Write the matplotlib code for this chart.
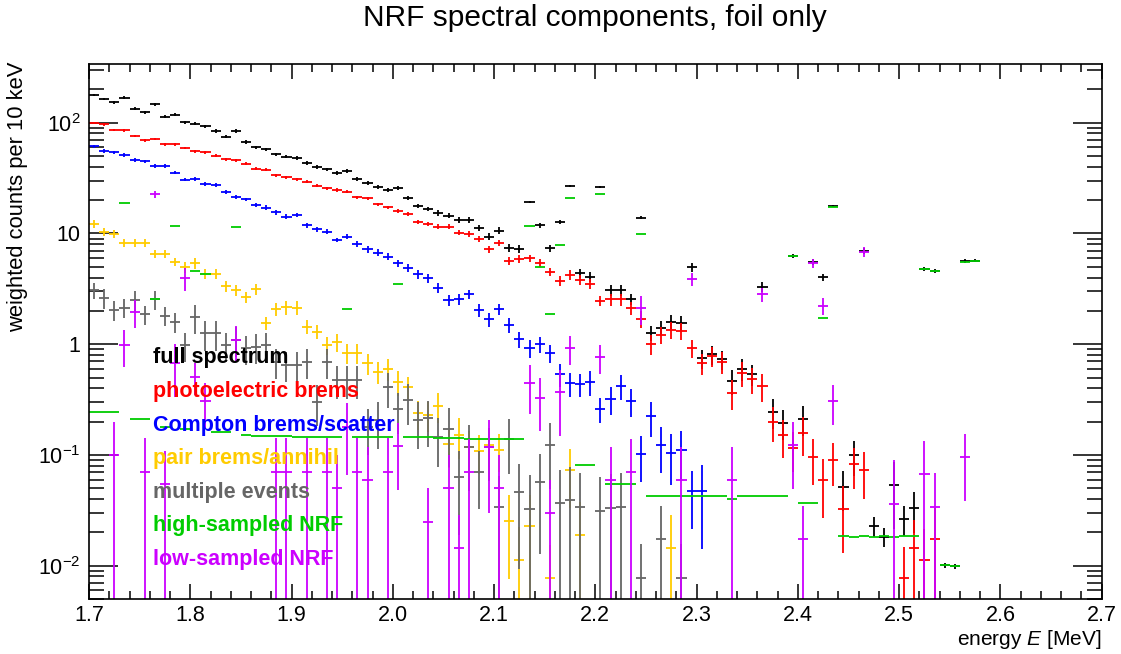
import numpy as np
import matplotlib
matplotlib.use('Agg')
import matplotlib.pyplot as plt
from matplotlib.ticker import FixedLocator, FixedFormatter, LogLocator, MultipleLocator, NullFormatter, FormatStrFormatter

plt.rcParams['font.family'] = ['Liberation Sans', 'DejaVu Sans']
plt.rcParams['mathtext.fontset'] = 'custom'
plt.rcParams['mathtext.rm'] = 'Liberation Sans'
plt.rcParams['mathtext.it'] = 'Liberation Sans:italic'

N = None
e_min = 1.7      # MeV, first bin edge
bin_w = 0.01     # 10 keV bins

# ---- values per 10 keV bin (None = empty bin) ----
full = [178, 164, 153, 168, 134, 124, 147, 113, 118, 101,
        98, 93, 84, 75, 84, 67, 60, 57.5, 51.9, 49.4,
        48.3, 43.5, 39.8, 37.9, 35.2, 36.9, 30.8, 28.7, 26.3, 24.5,
        25.9, 20.9, 17.7, 16.6, 15.3, 14.5, 13.2, 13.2, 11.3, 9.35,
        10.6, 7.44, 7.24, 19.4, 11.9, 7.35, 12.6, 27.0, 4.37, 4.05,
        26.1, 3.08, 3.08, 2.56, 13.9, 1.27, 1.41, 1.60, 1.55, 4.94,
        0.745, 0.81, 0.73, 0.468, 0.60, 0.535, 3.3, 0.246, 0.195, 6.3,
        0.211, 5.5, 4.02, 17.6, 0.0516, 0.0998, 6.95, 0.0229, 0.0183, 0.0536,
        0.0264, 0.033, 4.8, 4.62, 0.0101, 0.0099, 5.6, 5.7, N, N]
full_err = [.03] * 10 + [.035] * 10 + [.04] * 10 + \
    [.045, .045, .045, .045, .055, .055, .06, .06, .065, .07,
     .07, .08, .08, .02, .05, .08, .04, .02, .1, .1,
     .02, .12, .12, .12, .03, .16, .15, .15, .15, .1,
     .2, .2, .2, .25, .22, .22, .1, .3, .3, .04,
     .3, .06, .07, .02, .4, .35, .06, .2, .2, .6,
     .3, .4, .04, .04, .05, .05, .04, .04, 0, 0]

photo = [100, 96.7, 86.4, 85.3, 75.8, 69.3, 71.7, 63.8, 63.8, 59.5,
         55.2, 54.3, 50.3, 46.8, 45.7, 42.7, 38.5, 37.7, 33.5, 32.1,
         30.8, 29.3, 27.0, 25.6, 24.7, 23.8, 21.2, 20.8, 18.4, 17.2,
         16.0, 15.0, 12.7, 12.1, 11.5, 11.5, 10.2, 9.95, 8.91, 7.19,
         8.2, 5.68, 5.88, 5.96, 5.44, 4.52, 3.74, 4.22, 3.80, 3.50,
         2.47, 2.54, 2.54, 2.11, 1.69, 1.0, 1.22, 1.35, 1.32, 0.918,
         0.671, 0.782, 0.695, 0.365, 0.553, 0.482, 0.422, 0.2, 0.151, 0.116,
         0.159, 0.0964, 0.0594, 0.09, 0.0325, 0.0822, 0.0731, N, N, N,
         0.0078, 0.0144, 0.0112, 0.0173, N, N, N, N, N, N]
photo_err = [.025] * 10 + [.03] * 10 + [.035] * 10 + \
    [.04, .04, .04, .04, .05, .05, .05, .06, .06, .07,
     .06, .08, .08, .08, .08, .09, .1, .1, .1, .1,
     .1, .12, .12, .13, .17, .2, .18, .17, .17, .19,
     .22, .21, .22, .3, .25, .26, .28, .35, .38, .4,
     .38, .45, .55, .42, .6, .4, .45, 0, 0, 0,
     .9, .8, .9, .9, 0, 0, 0, 0, 0, 0]

compton = [61.3, 55.8, 54.0, 51.1, 46.0, 44.8, 40.6, 40.6, 35.4, 30.6,
           31.0, 28.1, 27.2, 23.7, 21.3, 20.3, 18.1, 17.1, 15.6, 14.2,
           14.7, 11.9, 10.9, 10.4, 8.73, 9.35, 8.04, 7.19, 6.70, 6.17,
           5.37, 4.87, 4.27, 3.93, 3.24, 2.51, 2.54, 2.82, 2.04, 1.68,
           2.08, 1.49, 1.11, 0.918, 1.0, 0.828, 0.535, 0.443, 0.434, 0.458,
           0.260, 0.318, 0.422, 0.307, 0.102, 0.225, 0.124, 0.104, 0.111, 0.047,
           0.0476] + [N] * 39
compton_err = [.035] * 10 + [.04] * 7 + [.05] * 9 + \
    [.06, .065, .07, .07, .08, .08, .09, .09,
     .1, .11, .11, .1, .13, .14, .12, .15,
     .16, .18, .17, .19, .23, .25, .23, .25,
     .25, .28, .26, .29, .44, .35, .45, .49, .48, .54, .7] + [0] * 39

pair = [12.2, 10.4, 9.95, 8.26, 8.26, 8.26, 6.57, 6.57, 5.52, 4.94,
        5.40, 4.34, 4.34, 3.33, 3.09, 2.65, 3.13, 1.55, 2.08, 2.15,
        2.14, 1.44, 1.30, 0.98, 1.04, 0.83, 0.83, 0.67, 0.565, 0.60,
        0.458, 0.408, 0.238, 0.23, 0.279, 0.126, 0.153, 0.117, 0.109, 0.123,
        0.112, 0.0255, 0.0112, 0.0230, N, 0.00774, N, 0.0731, 0.0188, N,
        N, N, N, N, N, N, N, 0.0144] + [N] * 42
pair_err = [.08] * 9 + [.11] * 8 + [.14] * 6 + \
    [.18, .18, .2, .2, .22, .23, .22, .25, .25, .3,
     .3, .3, .4, .4, .4, .38, .4, .37, .7, 1.0,
     .9, 0, 1.0, 0, .55, 1.0, 0, 0, 0, 0,
     0, 0, 0, 0, 1.0] + [0] * 42

multi = [3.08, 2.6, 2.04, 2.14, 2.51, 1.86, 2.54, 1.81, 1.58, 0.98,
         1.75, 1.25, 1.25, 0.98, 1.1, 0.918, 0.95, 0.98, 0.695, 0.649,
         0.649, 0.695, 0.303, 0.695, 0.475, 0.475, 0.475, 0.18, 0.207, 0.408,
         0.26, 0.313, 0.207, 0.214, 0.146, 0.172, 0.0633, 0.117, 0.0706, 0.117,
         0.0341, 0.14, 0.0463, 0.0327, 0.0574, 0.122, 0.0368, 0.0392, 0.0341, N,
         0.0314, 0.0334, 0.0341, N, 0.0078, N, 0.0173, N, 0.0078] + [N] * 41
multi_err = [.17] + [.2] * 8 + [.3] * 13 + \
    [.4, .3, .33, .33, .33, .45, .45, .35, .4, .4, .45, .45,
     .47, .55, .7, .6, .54, .5, .9, .52, .8, 1.0, .78, .6, 1.0, 1.0, 1.0, 0,
     1.0, 1.0, 1.0, 0, 1.0, 0, 1.0, 0, 1.0] + [0] * 41

nrf_high = [0.243, 0.243, 0.243, 19.0, 0.21, 0.21, 2.54, 0.18, 11.7, 0.17,
            4.61, 4.27, 0.16, 0.16, 11.4, 0.15, 0.148, 0.148, 0.147, 0.147,
            0.146, 0.146, 0.146, 0.146, 0.146, 2.07, 0.146, 0.146, 0.146, 0.146,
            3.50, 0.145, 0.145, 0.144, 0.143, 0.142, 0.141, 0.140, 0.139, 0.139,
            0.138, 0.138, 0.138, 11.7, 5.01, 1.87, 7.87, 21.0, 0.0817, 0.0817,
            22.7, 0.0543, 0.0543, 0.0543, 9.89, 0.0429, 0.0429, 0.0429, 0.0429, 0.0429,
            0.0429, 0.0429, 0.0429, 0.040, 0.0429, 0.0429, 0.0429, 0.0429, 0.0429, 6.25,
            0.037, 0.037, 1.71, 17.5, 0.0185, 0.0183, 0.0187, 0.0182, 0.0185, 0.018,
            0.0185, 0.0185, 4.74, 4.58, 0.0101, 0.0099, 5.56, 5.67, N, N] + [N] * 10

nrf_low = [N, N, 0.1, 0.98, 1.94, 0.0706, 22.5, 0.0543, 0.671, 3.94,
           0.508, 0.31, N, N, 1.09, N, N, N, 0.0706, 0.0706,
           N, 0.0706, N, 0.0706, 0.05, 0.18, 0.0706, 0.0594, N, 0.0706,
           0.121, N, N, 0.025, N, 0.05, 0.0144, 0.0703, N, 0.119,
           0.05, N, N, 0.443, 0.329, 0.0297, 0.367, 0.918, N, N,
           0.762, 0.0594, N, 0.0697, 2.11, N, N, N, 0.0594, 3.88,
           N, N, N, 0.0594, N, N, 2.82, N, N, 0.123,
           0.0173, 5.37, 2.23, 0.309, N, N, 6.84, N, N, 0.0358,
           N, N, 0.0668, 0.0341, N, N, 0.0964, N, N, N] + [N] * 10
nrf_low_err = [0, 0, 1.0, .37, .28, 1.0, .07, 1.0, .5, .23,
               .32, .45, 0, 0, .35, 0, 0, 0, 1.0, 1.0,
               0, 1.0, 0, 1.0, 1.0, .63, 1.0, 1.0, 0, 1.0,
               .6, 0, 0, 1.0, 0, 1.0, 1.0, 1.0, 0, .75,
               1.0, 0, 0, .47, .5, 1.0, .6, .29, 0, 0,
               .3, 1.0, 0, 1.0, .3, 0, 0, 0, 1.0, .13,
               0, 0, 0, 1.0, 0, 0, .15, 0, 0, .6,
               1.0, .1, .17, .4, 0, 0, .1, 0, 0, 1.5,
               0, 0, 1.0, 1.0, 0, 0, .6, 0, 0, 0] + [0] * 10

labels = ['full spectrum', 'photoelectric brems', 'Compton brems/scatter',
          'pair brems/annihil', 'multiple events', 'high-sampled NRF', 'low-sampled NRF']
colors = ['#000000', '#ff0000', '#0000ff', '#ffcc00', '#666666', '#00cc00', '#cc00ff']

fig = plt.figure(figsize=(11.21, 6.54), dpi=100)
ax = fig.add_axes([0.0794, 0.0836, 0.9034, 0.8185])


def draw(vals, rel, color):
    idx = [i for i, v in enumerate(vals) if v is not None]
    v = np.array([vals[i] for i in idx], dtype=float)
    x = e_min + (np.array(idx) + 0.5) * bin_w
    up = v * np.array([rel[i] for i in idx], dtype=float)
    lo = v - np.maximum(v - up, 1e-6)
    ax.errorbar(x, v, xerr=bin_w / 2, yerr=[lo, up], fmt='none',
                ecolor=color, elinewidth=1.3, capsize=0)


series = [(full, full_err), (photo, photo_err), (compton, compton_err),
          (pair, pair_err), (multi, multi_err), (nrf_high, [0] * 100),
          (nrf_low, nrf_low_err)]
for (vals, rel), c in zip(series, colors):
    draw(vals, rel, c)

ax.set_yscale('log')
ax.set_xlim(1.7, 2.7)
ax.set_ylim(0.00497, 339)

ax.xaxis.set_major_locator(MultipleLocator(0.1))
ax.xaxis.set_minor_locator(MultipleLocator(0.02))
ax.xaxis.set_major_formatter(FormatStrFormatter('%.1f'))
ax.yaxis.set_major_locator(FixedLocator([0.01, 0.1, 1, 10, 100]))
ax.yaxis.set_major_formatter(FixedFormatter([r'$\mathregular{10^{-2}}$', r'$\mathregular{10^{-1}}$',
                                             '1', '10', r'$\mathregular{10^{2}}$']))
ax.yaxis.set_minor_locator(LogLocator(base=10, subs=range(2, 10), numticks=20))
ax.yaxis.set_minor_formatter(NullFormatter())

ax.tick_params(which='both', direction='in', top=True, right=True, width=1.1, labelsize=15.5)
ax.tick_params(axis='x', which='major', length=11, pad=4)
ax.tick_params(axis='x', which='minor', length=5.5)
ax.tick_params(axis='y', which='major', length=21, pad=6)
ax.tick_params(axis='y', which='minor', length=10.5)
for s in ax.spines.values():
    s.set_linewidth(1.2)

fig.text(595 / 1121, 1 - 18 / 654, 'NRF spectral components, foil only',
         ha='center', va='center', fontsize=21.5)
fig.text(18 / 1121, 1 - 62 / 654, 'weighted counts per 10 keV', rotation=90,
         ha='center', va='top', fontsize=15.8)
fig.text(1101 / 1121, 1 - 645 / 654, r'energy $E$ [MeV]', ha='right', va='baseline', fontsize=15)

for k, (lab, c) in enumerate(zip(labels, colors)):
    fig.text(153 / 1121, 1 - (358 + 33.6 * k) / 654, lab, color=c,
             fontsize=15.5, fontweight='bold', ha='left', va='center')

fig.savefig('out.png', dpi=100)
